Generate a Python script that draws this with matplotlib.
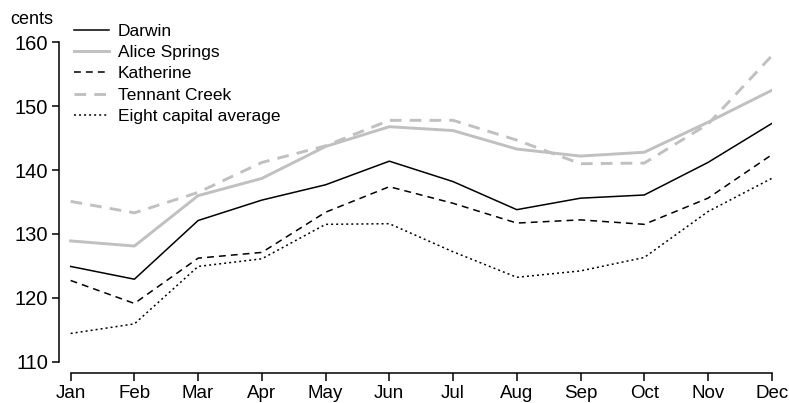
import matplotlib
matplotlib.use('Agg')
import matplotlib.pyplot as plt

months = ['Jan', 'Feb', 'Mar', 'Apr', 'May', 'Jun', 'Jul', 'Aug', 'Sep', 'Oct', 'Nov', 'Dec']

# unleaded petrol prices, cents per litre
darwin = [124.9, 122.9, 132.1, 135.3, 137.7, 141.4, 138.2, 133.8, 135.6, 136.1, 141.2, 147.3]
alice_springs = [128.9, 128.1, 136.0, 138.7, 143.7, 146.8, 146.2, 143.3, 142.2, 142.8, 147.5, 152.5]
katherine = [122.7, 119.1, 126.2, 127.1, 133.4, 137.4, 134.8, 131.7, 132.2, 131.5, 135.6, 142.4]
tennant_creek = [135.1, 133.3, 136.5, 141.2, 143.8, 147.8, 147.8, 144.7, 141.0, 141.1, 147.2, 157.9]
eight_capital = [114.4, 115.9, 124.9, 126.1, 131.5, 131.6, 127.2, 123.2, 124.2, 126.3, 133.5, 138.7]

plt.rcParams['font.family'] = ['Liberation Sans', 'DejaVu Sans']

W, H = 789, 403
fig = plt.figure(figsize=(W / 100, H / 100), dpi=100)
ax = fig.add_axes([59 / W, 30 / H, (771.7 - 59) / W, (373 - 42.5) / H])

x = list(range(len(months)))
grey = '#c0c0c0'
ax.plot(x, darwin, color='black', lw=1.1, label='Darwin')
ax.plot(x, alice_springs, color=grey, lw=2.1, label='Alice Springs')
ax.plot(x, katherine, color='black', lw=1.1, ls=(0, (4.5, 3.3)), label='Katherine')
ax.plot(x, tennant_creek, color=grey, lw=2.1, ls=(0, (4.0, 2.8)), label='Tennant Creek')
ax.plot(x, eight_capital, color='black', lw=1.1, ls=(0, (1.3, 2.0)), label='Eight capital average')

ax.set_xlim(-0.183, 11)
ax.set_ylim(108.2, 160)
ax.set_xticks(x)
ax.set_xticklabels(months)
ax.set_yticks([110, 120, 130, 140, 150, 160])

for s in ['top', 'right']:
    ax.spines[s].set_visible(False)
ax.spines['left'].set_bounds(110, 160)
ax.spines['bottom'].set_bounds(0, 11)
ax.spines['left'].set_linewidth(1.1)
ax.spines['bottom'].set_linewidth(1.1)
ax.tick_params(axis='y', length=5, width=1.1, labelsize=14.5, pad=3)
ax.tick_params(axis='x', length=6, width=1.1, labelsize=13.5, pad=2.5)

fig.text(10 / W, 1 - 19 / H, 'cents', fontsize=13, va='center', ha='left')

ax.legend(loc='upper left', bbox_to_anchor=(74 / W, 1 - 23.5 / H), bbox_transform=fig.transFigure,
          frameon=False, fontsize=12.5, handlelength=2.0, handletextpad=0.52,
          borderpad=0, borderaxespad=0, labelspacing=0.36)

fig.savefig('out.png', dpi=100)
